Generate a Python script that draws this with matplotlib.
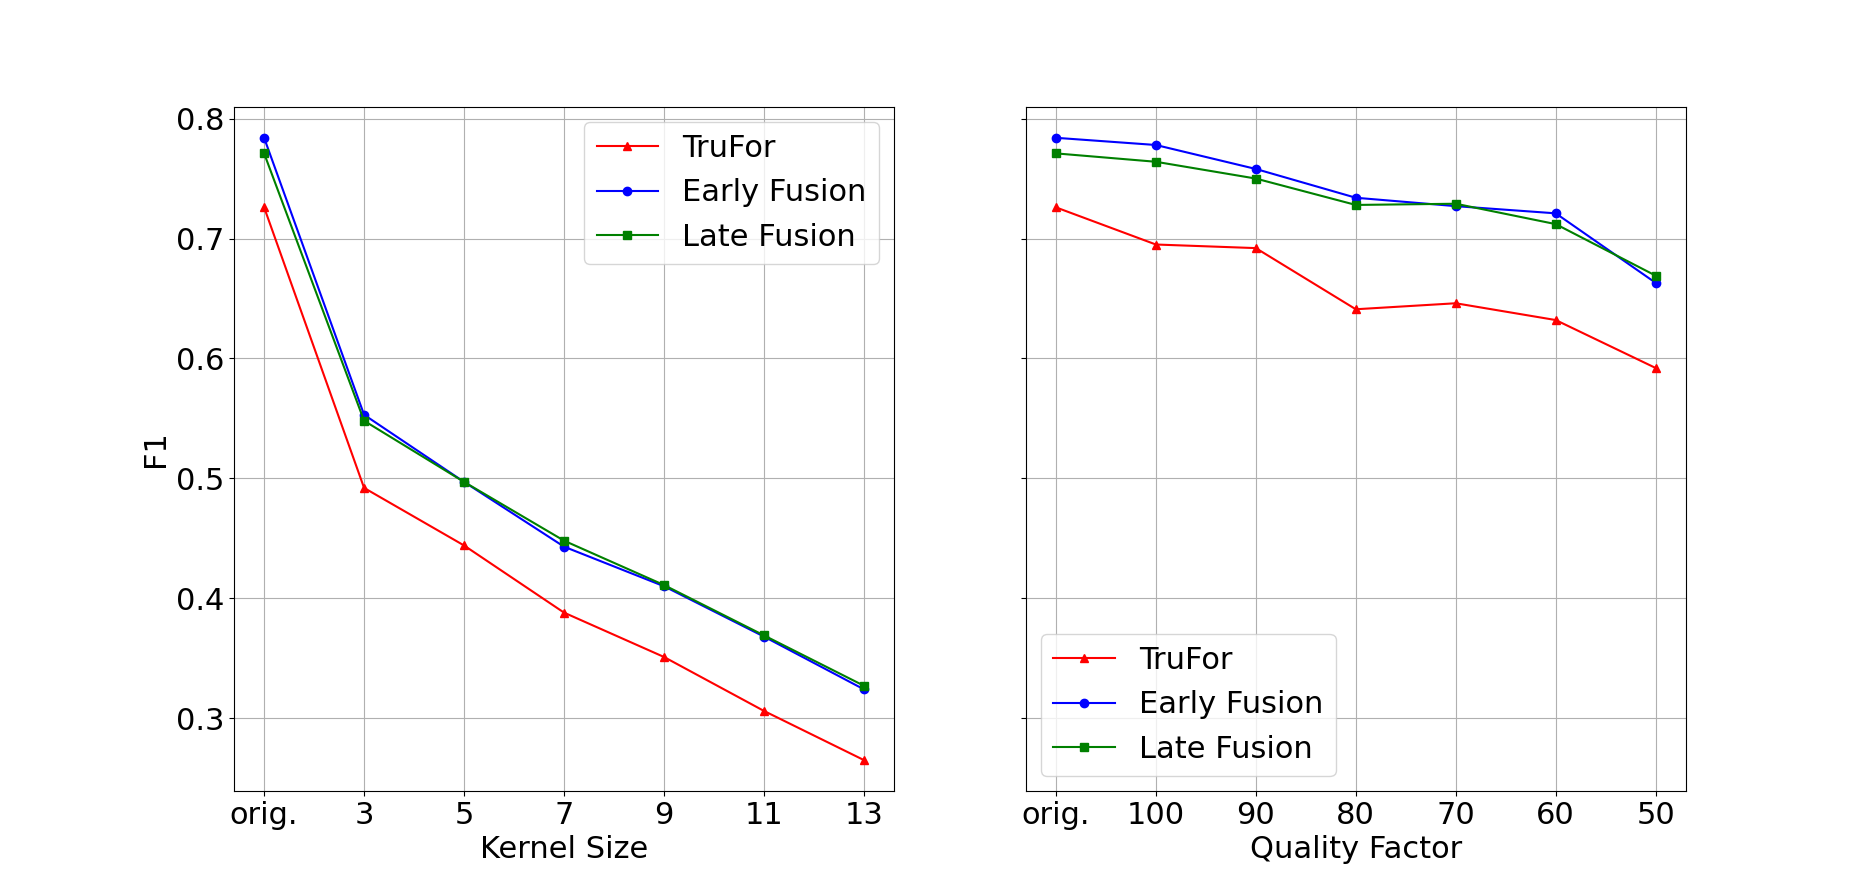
import matplotlib
matplotlib.use("Agg")
import matplotlib.pyplot as plt

kernel_labels = ["orig.", "3", "5", "7", "9", "11", "13"]
quality_labels = ["orig.", "100", "90", "80", "70", "60", "50"]

blur_trufor = [0.726, 0.492, 0.444, 0.388, 0.351, 0.306, 0.265]
blur_early = [0.784, 0.553, 0.497, 0.443, 0.410, 0.368, 0.324]
blur_late = [0.771, 0.548, 0.497, 0.448, 0.411, 0.369, 0.327]

jpeg_trufor = [0.726, 0.695, 0.692, 0.641, 0.646, 0.632, 0.592]
jpeg_early = [0.784, 0.778, 0.758, 0.734, 0.727, 0.721, 0.663]
jpeg_late = [0.771, 0.764, 0.750, 0.728, 0.729, 0.712, 0.669]

plt.rcParams['font.size'] = 22

fig, (ax1, ax2) = plt.subplots(1, 2, figsize=(18.73, 8.89), dpi=100, sharey=True)

for ax, labels, tr, ea, la, xlabel, loc in [
    (ax1, kernel_labels, blur_trufor, blur_early, blur_late, "Kernel Size", "upper right"),
    (ax2, quality_labels, jpeg_trufor, jpeg_early, jpeg_late, "Quality Factor", "lower left"),
]:
    x = list(range(len(labels)))
    ax.plot(x, tr, color="red", marker="^", label="TruFor")
    ax.plot(x, ea, color="blue", marker="o", label="Early Fusion")
    ax.plot(x, la, color="green", marker="s", label="Late Fusion")
    ax.set_xticks(x)
    ax.set_xticklabels(labels)
    ax.set_xlabel(xlabel)
    ax.grid(True)
    ax.legend(loc=loc)

ax1.set_ylabel("F1")
ax1.set_yticks([0.3, 0.4, 0.5, 0.6, 0.7, 0.8])

fig.savefig("out.png")
